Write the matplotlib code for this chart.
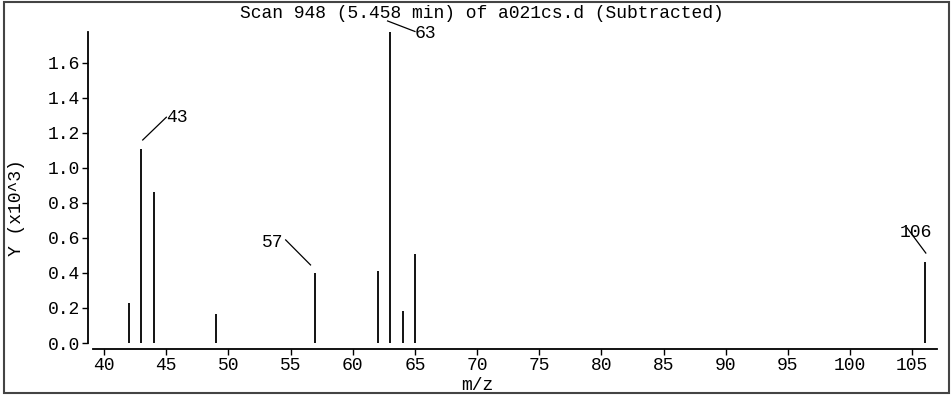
import matplotlib
matplotlib.use('Agg')
import matplotlib.pyplot as plt
from matplotlib.patches import Rectangle

# peak list (m/z, abundance x10^3)
mz = [42, 43, 44, 49, 57, 62, 63, 64, 65, 106]
abund = [0.23, 1.11, 0.86, 0.166, 0.40, 0.41, 1.777, 0.18, 0.51, 0.46]

# labelled peaks: text, text pos, leader line start, leader line end
labels = ['43', '57', '63', '106']
label_xy = [(45.0, 1.29), (54.4, 0.577), (65.0, 1.77), (104.0, 0.634)]
line_from = [(43.1, 1.16), (56.6, 0.446), (65.0, 1.78), (106.1, 0.514)]
line_to = [(45.0, 1.29), (54.6, 0.589), (62.8, 1.84), (104.6, 0.657)]
label_ha = ['left', 'right', 'left', 'left']

xticks = list(range(40, 106, 5))
yticks = [0.0, 0.2, 0.4, 0.6, 0.8, 1.0, 1.2, 1.4, 1.6]

plt.rcParams['font.family'] = ['Liberation Mono', 'DejaVu Sans Mono']
plt.rcParams['font.size'] = 13

W, H = 951, 396
fig = plt.figure(figsize=(W / 100, H / 100), dpi=100)
ax = fig.add_axes([93 / W, (H - 343) / H, (937 - 93) / W, (343 - 32) / H])

ax.vlines(mz, 0, abund, colors='black', linewidth=1.3)

for t, xy, p0, p1, ha in zip(labels, label_xy, line_from, line_to, label_ha):
    ax.plot([p0[0], p1[0]], [p0[1], p1[1]], color='black', linewidth=0.9,
            clip_on=False)
    ax.text(xy[0], xy[1], t, ha=ha, va='center', clip_on=False)

ax.set_xlim(39.1, 107.0)
ax.set_ylim(0, 1.777)
ax.set_xticks(xticks)
ax.set_yticks(yticks)
ax.set_yticklabels(['%.1f' % v for v in yticks])

for s in ['top', 'right']:
    ax.spines[s].set_visible(False)
ax.spines['left'].set_position(('outward', 3.6))
ax.spines['bottom'].set_position(('outward', 4.3))
ax.spines['left'].set_linewidth(1.3)
ax.spines['bottom'].set_linewidth(1.3)
ax.tick_params(direction='out', length=4, width=1, pad=2, labelsize=13)

fig.text(482 / W, 1 - 14 / H, 'Scan 948 (5.458 min) of a021cs.d (Subtracted)',
         ha='center', va='center')
fig.text(477 / W, 1 - 385 / H, 'm/z', ha='center', va='center')
fig.text(17 / W, 1 - 208 / H, 'Y (x10^3)', ha='center', va='center', rotation=90)

fig.patches.append(Rectangle((4 / W, 1 - 393 / H), (949 - 4) / W, (393 - 2) / H,
                             transform=fig.transFigure, fill=False,
                             edgecolor='#444444', linewidth=1.5))

fig.savefig('out.png', dpi=100)
